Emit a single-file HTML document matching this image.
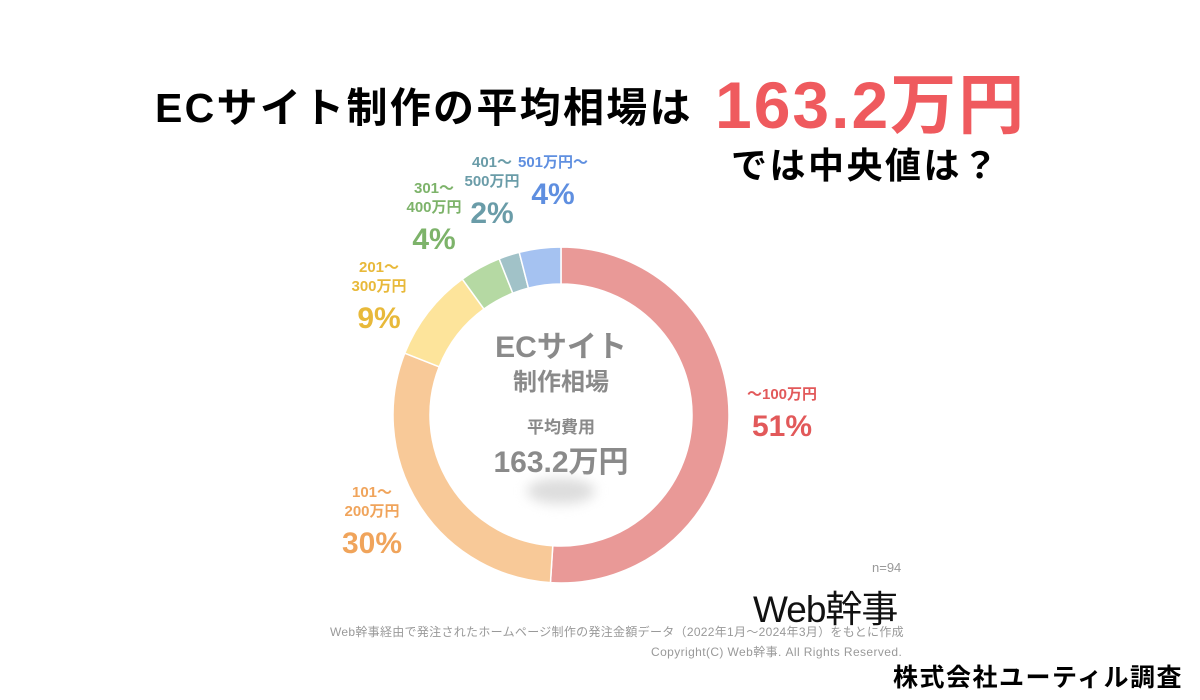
<!DOCTYPE html>
<html><head><meta charset="utf-8">
<style>
html,body{margin:0;padding:0;background:#fff;}
body{width:1200px;height:700px;overflow:hidden;position:relative;font-family:"Liberation Sans","Noto Sans CJK JP",sans-serif;}
.t{position:absolute;white-space:nowrap;font-weight:bold;}
</style></head><body>
<div class="t" style="left:155px;top:74px;font-size:41px;letter-spacing:2.3px;color:#000;">ECサイト制作の平均相場は</div>
<div class="t" style="left:715px;top:52px;font-size:66px;color:#ef5a5e;letter-spacing:2px;">163.2万円</div>
<div class="t" style="left:731px;top:137px;font-size:36px;letter-spacing:2.5px;color:#000;">では中央値は？</div>
<svg id="chart" width="1200" height="700" style="position:absolute;left:0;top:0"></svg>
<div class="t" style="left:461px;top:322px;width:200px;text-align:center;font-size:30px;color:#8a8a8a;">ECサイト</div>
<div class="t" style="left:461px;top:362px;width:200px;text-align:center;font-size:24px;color:#8a8a8a;">制作相場</div>
<div class="t" style="left:461px;top:413px;width:200px;text-align:center;font-size:17px;color:#8a8a8a;">平均費用</div>
<div class="t" style="left:461px;top:437px;width:200px;text-align:center;font-size:30px;color:#8a8a8a;">163.2万円</div>
<div style="position:absolute;left:527px;top:478px;width:68px;height:26px;border-radius:50%;background:#ddd;filter:blur(6px);"></div>
<div class="t" style="left:872px;top:560px;font-size:13px;color:#999;font-weight:normal;">n=94</div>
<div class="t" style="left:753px;top:579px;font-size:37px;color:#111;font-weight:normal;letter-spacing:-1px;">Web幹事</div>
<div class="t" style="left:330px;top:623px;font-size:12px;letter-spacing:0.3px;color:#999;font-weight:normal;">Web幹事経由で発注されたホームページ制作の発注金額データ（2022年1月～2024年3月）をもとに作成</div>
<div class="t" style="left:651px;top:643px;font-size:12px;letter-spacing:0.4px;color:#999;font-weight:normal;">Copyright(C) Web幹事. All Rights Reserved.</div>
<div class="t" style="left:893px;top:658px;font-size:25px;letter-spacing:1.5px;color:#000;">株式会社ユーティル調査</div>
<script>
const categories=["～100万円","101～200万円","201～300万円","301～400万円","401～500万円","501万円～"];
const values=[51,30,9,4,2,4];
const sliceColors=["#e99997","#f8c998","#fde49b","#b5d9a3","#a1c2c8","#a5c2f1"];
const labelColors=["#e2595a","#f0a45b","#e8b93a","#7db36a","#6a9ca8","#5f8fe0"];
const labelLines=[["～100万円"],["101～","200万円"],["201～","300万円"],["301～","400万円"],["401～","500万円"],["501万円～"]];
const labelPos=[[782,399],[372,497],[379,272],[434,193],[492,167],[553,167]];
const cx=561,cy=415,R=168,r=131;
const svg=document.getElementById('chart');
const NS="http://www.w3.org/2000/svg";
const total=values.reduce((a,b)=>a+b,0);
function pt(a,rad){return [cx+rad*Math.sin(a),cy-rad*Math.cos(a)];}
let acc=0;
values.forEach((v,i)=>{
 const a0=acc/total*2*Math.PI;acc+=v;const a1=acc/total*2*Math.PI;
 const large=(a1-a0)>Math.PI?1:0;
 const p0=pt(a0,R),p1=pt(a1,R),q1=pt(a1,r),q0=pt(a0,r);
 const p=document.createElementNS(NS,'path');
 p.setAttribute('d',`M${p0[0]},${p0[1]}A${R},${R} 0 ${large} 1 ${p1[0]},${p1[1]}L${q1[0]},${q1[1]}A${r},${r} 0 ${large} 0 ${q0[0]},${q0[1]}Z`);
 p.setAttribute('fill',sliceColors[i]);p.setAttribute('stroke','#fff');p.setAttribute('stroke-width','1.5');
 
 
 svg.appendChild(p);
 const [lx,ly]=labelPos[i];
 const g=document.createElementNS(NS,'g');
 
 
 const lines=labelLines[i];
 lines.forEach((s,j)=>{
  const t=document.createElementNS(NS,'text');
  t.setAttribute('x',lx);t.setAttribute('y',ly+j*19);t.setAttribute('text-anchor','middle');
  t.setAttribute('font-size','15');t.setAttribute('font-weight','bold');t.setAttribute('fill',labelColors[i]);
  t.setAttribute('font-family','"Liberation Sans","Noto Sans CJK JP",sans-serif');
  t.textContent=s;g.appendChild(t);
 });
 const t=document.createElementNS(NS,'text');
 t.setAttribute('x',lx);t.setAttribute('y',ly+lines.length*19+18);t.setAttribute('text-anchor','middle');
 t.setAttribute('font-size','30');t.setAttribute('font-weight','bold');t.setAttribute('fill',labelColors[i]);
 t.setAttribute('font-family','"Liberation Sans","Noto Sans CJK JP",sans-serif');
 t.textContent=v+'%';g.appendChild(t);
 svg.appendChild(g);
});
</script>
</body></html>
